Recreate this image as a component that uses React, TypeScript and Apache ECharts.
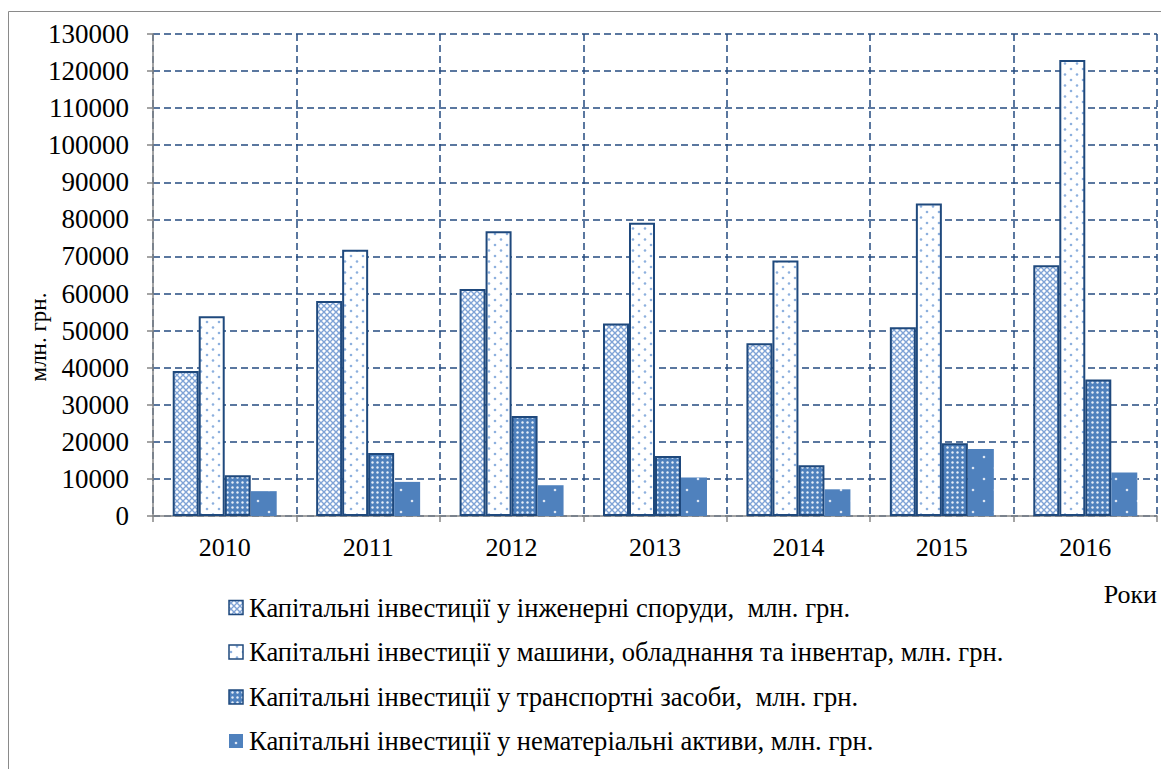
import React, { useEffect, useRef } from "react";
import * as echarts from "echarts";

const years = ["2010", "2011", "2012", "2013", "2014", "2015", "2016"];
const seriesNames = [
  "Капітальні інвестиції у інженерні споруди,  млн. грн.",
  "Капітальні інвестиції у машини, обладнання та інвентар, млн. грн.",
  "Капітальні інвестиції у транспортні засоби,  млн. грн.",
  "Капітальні інвестиції у нематеріальні активи, млн. грн.",
];
const engineering = [39100, 58000, 61200, 51900, 46600, 50900, 67600];
const machinery = [53900, 71800, 76800, 79100, 68900, 84300, 123000];
const transport = [11000, 17000, 27000, 16200, 13700, 19600, 36800];
const intangible = [6700, 9200, 8300, 10400, 7200, 18100, 11700];
const yTicks = { min: 0, max: 130000, interval: 10000 };

function makePattern(kind: number): HTMLCanvasElement {
  const c = document.createElement("canvas");
  let ctx: CanvasRenderingContext2D;
  if (kind === 0) {
    c.width = 6; c.height = 6;
    ctx = c.getContext("2d")!;
    ctx.fillStyle = "#ffffff";
    ctx.fillRect(0, 0, 6, 6);
    ctx.strokeStyle = "#7FA3D6";
    ctx.lineWidth = 1.4;
    ctx.beginPath();
    ctx.moveTo(-1, -1); ctx.lineTo(7, 7);
    ctx.moveTo(7, -1); ctx.lineTo(-1, 7);
    ctx.stroke();
  } else if (kind === 1) {
    c.width = 12; c.height = 11;
    ctx = c.getContext("2d")!;
    ctx.fillStyle = "#ffffff";
    ctx.fillRect(0, 0, 12, 11);
    ctx.fillStyle = "#8DB0DE";
    ctx.beginPath(); ctx.arc(3, 3, 1.3, 0, Math.PI * 2); ctx.fill();
    ctx.beginPath(); ctx.arc(9, 8.5, 1.3, 0, Math.PI * 2); ctx.fill();
  } else if (kind === 2) {
    c.width = 5; c.height = 5;
    ctx = c.getContext("2d")!;
    ctx.fillStyle = "#4F81BD";
    ctx.fillRect(0, 0, 5, 5);
    ctx.fillStyle = "#E6EEF8";
    ctx.beginPath(); ctx.arc(2.5, 2.5, 1.2, 0, Math.PI * 2); ctx.fill();
  } else {
    c.width = 22; c.height = 22;
    ctx = c.getContext("2d")!;
    ctx.fillStyle = "#4F81BD";
    ctx.fillRect(0, 0, 22, 22);
    ctx.fillStyle = "#DCE6F3";
    ctx.beginPath(); ctx.arc(5, 6, 1.3, 0, Math.PI * 2); ctx.fill();
    ctx.beginPath(); ctx.arc(16, 17, 1.3, 0, Math.PI * 2); ctx.fill();
  }
  return c;
}

export default function App() {
  const ref = useRef<HTMLDivElement>(null);
  useEffect(() => {
    const chart = echarts.init(ref.current!, null, { renderer: "svg" });
    const font = "Liberation Serif";
    const dash = { color: "#254B80", width: 1.5, type: [7, 4] as any };
    const datasets = [engineering, machinery, transport, intangible];
    const patterns = [0, 1, 2, 3].map((k) => makePattern(k));
    const borderColors = ["#1F497D", "#1F497D", "#1F497D", "#4F81BD"];
    const series = datasets.map((d, i) => ({
      name: seriesNames[i],
      type: "bar",
      data: d,
      barGap: "0%",
      barCategoryGap: "27.5%",
      itemStyle: {
        color: { image: patterns[i], repeat: "repeat" } as any,
        borderColor: borderColors[i],
        borderWidth: i === 3 ? 0 : 2,
      },
    }));
    const legendRows = [607.5, 652, 697, 741];
    const legendGraphics: any[] = [];
    seriesNames.forEach((name, i) => {
      legendGraphics.push({
        type: "rect",
        shape: { x: 229, y: legendRows[i] - 7, width: 14, height: 14 },
        style: {
          fill: { image: patterns[i], repeat: "repeat" },
          stroke: i === 3 ? null : borderColors[i],
          lineWidth: i === 3 ? 0 : 1.5,
        },
        silent: true,
      });
      legendGraphics.push({
        type: "text",
        x: 249,
        y: legendRows[i],
        style: {
          text: name,
          fill: "#000",
          fontFamily: font,
          fontSize: 26.6,
          align: "left",
          verticalAlign: "middle",
        },
        silent: true,
      });
    });
    chart.setOption({
      animation: false,
      textStyle: { fontFamily: font },
      grid: { left: 153, right: 4, top: 34, bottom: 253, containLabel: false },
      xAxis: {
        type: "category",
        data: years,
        axisLine: { lineStyle: { color: "#868686", width: 1.5 } },
        axisTick: { show: true, length: 6, lineStyle: { color: "#868686", width: 1.5 } },
        axisLabel: { fontSize: 26, color: "#000", margin: 18, fontFamily: font },
        splitLine: { show: true, lineStyle: dash },
      },
      yAxis: {
        type: "value",
        min: yTicks.min,
        max: yTicks.max,
        interval: yTicks.interval,
        axisLine: { show: true, lineStyle: { color: "#868686", width: 1.5 } },
        axisTick: { show: true, length: 6, lineStyle: { color: "#868686", width: 1.5 } },
        axisLabel: {
          fontSize: 27,
          color: "#000",
          margin: 24,
          fontFamily: font,
          formatter: (v: number) => String(v),
        },
        splitLine: { show: true, lineStyle: dash },
      },
      graphic: [
        {
          type: "rect",
          shape: { x: 8.5, y: 11.5, width: 1300, height: 900 },
          style: { fill: "none", stroke: "#8a8a8a", lineWidth: 1 },
          silent: true,
        },
        {
          type: "text",
          x: 38,
          y: 337,
          rotation: Math.PI / 2,
          style: {
            text: "млн. грн.",
            fill: "#000",
            fontFamily: font,
            fontSize: 23,
            align: "center",
            verticalAlign: "middle",
          },
        },
        {
          type: "text",
          x: 1157,
          y: 594,
          style: {
            text: "Роки",
            fill: "#000",
            fontFamily: font,
            fontSize: 26,
            align: "right",
            verticalAlign: "middle",
          },
        },
        ...legendGraphics,
      ],
      series,
    });
    return () => chart.dispose();
  }, []);
  return (
    <div
      ref={ref}
      style={{ position: "absolute", left: 0, top: 0, width: 1161, height: 769 }}
    />
  );
}
